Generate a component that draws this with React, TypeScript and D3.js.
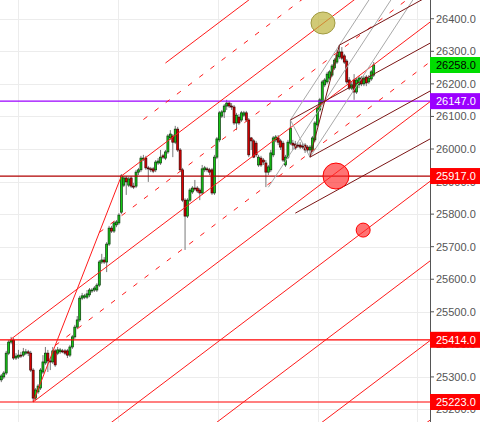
import React from "react";
import * as d3 from "d3";

// ---------- data ----------
const openP = [25291,25300,25312,25373,25407,25413,25358,25361,25367,25367,25373,25377,25373,25321,25235,25254,25266,25315,25343,25373,25349,25346,25380,25373,25377,25380,25380,25380,25367,25392,25423,25453,25475,25542,25545,25545,25552,25564,25567,25567,25582,25653,25659,25653,25708,25757,25748,25767,25773,25806,25889,25911,25889,25911,25886,25886,25929,25936,25969,25972,25942,25939,25939,25936,25957,25957,25979,25972,25991,26034,26040,26021,26061,25997,25936,25843,25794,25843,25868,25880,25880,25874,25865,25936,25939,25936,25936,25865,25975,26028,26101,26114,26132,26141,26132,26129,26080,26098,26089,26104,26111,26089,26034,26025,26018,25951,25972,25966,25957,25929,25936,25982,26028,26034,26025,26018,25951,25975,26018,26018,26015,26012,26012,26009,26012,26006,25997,25997,26028,26074,26120,26141,26197,26206,26218,26227,26249,26267,26283,26298,26286,26270,26212,26187,26212,26175,26197,26218,26200,26221,26206,26215,26227];
const highP = [25309,25318,25380,25413,25423,25420,25373,25383,25377,25389,25386,25383,25380,25327,25266,25278,25327,25367,25392,25383,25358,25392,25386,25392,25389,25386,25386,25386,25398,25429,25460,25487,25549,25558,25555,25567,25573,25573,25579,25588,25659,25678,25668,25714,25764,25764,25779,25782,25803,25923,25917,25917,25914,25917,25896,25936,25942,25979,25982,25979,25948,25945,25945,25966,25972,25997,25985,25997,26046,26058,26046,26071,26068,26003,25942,25849,25849,25880,25886,25905,25886,25880,25951,25948,25945,25942,25942,25982,26037,26117,26120,26138,26151,26147,26141,26135,26111,26107,26117,26117,26117,26095,26037,26031,26025,25982,25979,25972,25966,25951,25997,26040,26043,26043,26031,26025,25982,26028,26089,26028,26025,26021,26021,26018,26018,26012,26012,26040,26086,26132,26157,26212,26218,26237,26243,26261,26279,26304,26319,26313,26292,26276,26221,26206,26230,26218,26224,26224,26224,26227,26227,26243,26267];
const lowP = [25284,25294,25306,25367,25401,25352,25352,25355,25358,25361,25367,25364,25315,25223,25229,25248,25260,25309,25337,25315,25321,25340,25331,25367,25371,25373,25367,25358,25361,25386,25417,25447,25469,25536,25539,25539,25545,25558,25561,25561,25576,25647,25647,25622,25702,25742,25742,25760,25767,25800,25883,25859,25883,25880,25877,25880,25920,25929,25963,25936,25899,25929,25926,25929,25951,25951,25969,25966,25985,26028,25975,26015,25991,25929,25837,25690,25788,25837,25862,25871,25865,25843,25859,25929,25929,25920,25859,25859,25969,26021,26095,26095,26120,26126,26120,26074,26058,26074,26083,26098,26083,25975,25997,25972,25975,25945,25945,25951,25883,25920,25929,25975,26021,26012,25997,25960,25945,25969,26012,25997,25997,26003,26000,26000,25988,25988,25975,25991,26021,26068,26114,26135,26190,26200,26212,26221,26243,26261,26276,26273,26261,26200,26181,26181,26151,26169,26187,26193,26193,26193,26200,26209,26221];
const closeP = [25303,25312,25373,25407,25413,25358,25364,25367,25364,25377,25377,25373,25321,25235,25260,25272,25321,25346,25373,25349,25346,25380,25337,25383,25383,25377,25373,25367,25392,25423,25453,25475,25542,25549,25549,25555,25567,25567,25573,25582,25653,25659,25653,25708,25757,25748,25773,25776,25797,25917,25911,25899,25908,25886,25884,25929,25936,25972,25972,25942,25939,25936,25932,25960,25963,25975,25975,25991,26040,26046,26021,26061,25997,25936,25843,25794,25843,25874,25880,25877,25871,25865,25939,25942,25936,25929,25865,25975,26031,26111,26114,26132,26141,26132,26129,26080,26104,26080,26111,26111,26089,25982,26025,25975,25982,25975,25951,25960,25929,25945,25988,26034,26037,26021,26006,25966,25975,26021,26064,26012,26003,26009,26006,26006,25997,25997,26006,26034,26080,26126,26151,26206,26212,26230,26237,26255,26273,26289,26298,26279,26267,26206,26187,26197,26175,26212,26218,26200,26218,26203,26218,26237,26258];

const priceTicks = [25200,25300,25400,25500,25600,25700,25800,25900,26000,26100,26200,26300,26400];
const markerPrices = [26258, 26147, 25917, 25414, 25223];
const hLinePrices = [26147, 25917, 25414, 25223];
const gridIdx = [6.8, 47.6, 88.5, 129.3, 169.7];

// main pitchfork anchors (bar index, price)
const pf1Idx = [3.6, 13, 49];
const pf1Price = [25414, 25223, 25917];
const pf1Solid = [1, -1, 2, -2, -3, -4, -5];
const pf1Dashed = [0.5, -0.5, 1.5];

// second pitchfork anchors (shared by the maroon fork and the grey Schiff fork)
const pf2Idx = [118, 126, 138];
const pf2Price = [26089, 25975, 26319];
const pf2Solid = [1, -1, -2];

// markers
const ellipseIdx = [131.3];
const ellipsePrice = [26387];
const circleIdx = [136.6, 147.7];
const circlePrice = [25917, 25751];

// ---------- layout / style ----------
const W = 488, H = 422, PW = 430;
const RED = "#ff1a1a";
const MAROON = "#7b1515";
const GRAY = "#a8a8a8";

const markerStyle: Record<number, { bg: string; fg: string }> = {
  26258: { bg: "#00dd00", fg: "#000" },
  26147: { bg: "#9b00ff", fg: "#fff" },
  25917: { bg: "#ff0000", fg: "#fff" },
  25414: { bg: "#ff0000", fg: "#fff" },
  25223: { bg: "#ff0000", fg: "#fff" },
};
const hLineColor: Record<number, string> = {
  26147: "#9b00ff",
  25917: "#b00000",
  25414: "#ff0000",
  25223: "#ff0000",
};

export default function App() {
  const n = closeP.length;
  const x = d3.scaleLinear().domain([0, n - 1]).range([1.3, 373.7]);
  const y = d3.scaleLinear().domain([25223, 26258]).range([402, 65]);

  const ray = (sx: number, sy: number, dx: number, dy: number) => {
    const t = (PW + 20 - sx) / dx;
    return [sx, sy, sx + t * dx, sy + t * dy];
  };

  const fork = (idx: number[], pr: number[]) => {
    const P = idx.map((i, k) => [x(i), y(pr[k])]);
    const mid = [(P[1][0] + P[2][0]) / 2, (P[1][1] + P[2][1]) / 2];
    const dir = [mid[0] - P[0][0], mid[1] - P[0][1]];
    const half = [P[2][0] - mid[0], P[2][1] - mid[1]];
    const level = (k: number) => ray(mid[0] + k * half[0], mid[1] + k * half[1], dir[0], dir[1]);
    const median = ray(P[0][0], P[0][1], dir[0], dir[1]);
    return { P, mid, level, median };
  };

  const f1 = fork(pf1Idx, pf1Price);
  const f2 = fork(pf2Idx, pf2Price);

  // grey modified-Schiff fork on the same three points
  const A = f2.P[0], B = f2.P[1], C = f2.P[2];
  const sOrigin = [(A[0] + B[0]) / 2, (A[1] + B[1]) / 2];
  const sDir = [f2.mid[0] - sOrigin[0], f2.mid[1] - sOrigin[1]];
  const sLine = (p: number[], t0: number) =>
    ray(p[0] + t0 * sDir[0], p[1] + t0 * sDir[1], sDir[0], sDir[1]);
  const schiff = [sLine(sOrigin, -1.3), sLine(C, -2), sLine(B, 0)];

  const bw = 2.0;
  const font = "'Liberation Sans', Arial, sans-serif";

  return (
    <svg width={W} height={H} style={{ position: "absolute", left: 0, top: 0, background: "#fff" }}>
      <defs>
        <clipPath id="plot">
          <rect x={0} y={0} width={PW} height={H} />
        </clipPath>
      </defs>
      {/* grid */}
      <g stroke="#ececec" strokeWidth={1}>
        {priceTicks.map((p) => (
          <line key={p} x1={0} x2={PW} y1={Math.round(y(p)) + 0.5} y2={Math.round(y(p)) + 0.5} />
        ))}
        {gridIdx.map((g) => (
          <line key={g} x1={Math.round(x(g)) + 0.5} x2={Math.round(x(g)) + 0.5} y1={0} y2={H} />
        ))}
      </g>

      <g clipPath="url(#plot)">
        {/* candles */}
        {closeP.map((c, i) => {
          const o = openP[i];
          const up = c >= o;
          const cx = x(i);
          const top = y(Math.max(o, c));
          const bot = y(Math.min(o, c));
          return (
            <g key={i}>
              <line x1={cx} x2={cx} y1={y(highP[i])} y2={y(lowP[i])} stroke="#6a6a6a" strokeWidth={0.9} />
              <rect
                x={cx - bw / 2}
                y={top}
                width={bw}
                height={Math.max(bot - top, 1)}
                fill={up ? "#14c814" : "#e00000"}
                stroke={up ? "#083808" : "#3a0000"}
                strokeWidth={0.7}
              />
            </g>
          );
        })}

        {/* horizontal level lines */}
        {hLinePrices.map((p) => (
          <line key={p} x1={0} x2={PW} y1={y(p)} y2={y(p)} stroke={hLineColor[p]} strokeWidth={1.2} />
        ))}

        {/* main pitchfork */}
        <g stroke={RED} strokeWidth={1} fill="none">
          <line x1={f1.median[0]} y1={f1.median[1]} x2={f1.median[2]} y2={f1.median[3]} />
          <line x1={f1.P[1][0]} y1={f1.P[1][1]} x2={f1.P[2][0]} y2={f1.P[2][1]} />
          {pf1Solid.map((k) => {
            const l = f1.level(k);
            return <line key={k} x1={l[0]} y1={l[1]} x2={l[2]} y2={l[3]} />;
          })}
          {pf1Dashed.map((k) => {
            const l = f1.level(k);
            return <line key={"d" + k} x1={l[0]} y1={l[1]} x2={l[2]} y2={l[3]} strokeDasharray="5,9" />;
          })}
        </g>

        {/* grey Schiff fork */}
        <g stroke={GRAY} strokeWidth={1} fill="none">
          <line x1={A[0]} y1={A[1]} x2={B[0]} y2={B[1]} />
          {schiff.map((l, i) => (
            <line key={i} x1={l[0]} y1={l[1]} x2={l[2]} y2={l[3]} />
          ))}
        </g>

        {/* maroon fork */}
        <g stroke={MAROON} strokeWidth={1} fill="none">
          <line x1={f2.median[0]} y1={f2.median[1]} x2={f2.median[2]} y2={f2.median[3]} />
          <line x1={B[0]} y1={B[1]} x2={C[0]} y2={C[1]} />
          {pf2Solid.map((k) => {
            const l = f2.level(k);
            return <line key={k} x1={l[0]} y1={l[1]} x2={l[2]} y2={l[3]} />;
          })}
        </g>

        {/* markers */}
        {ellipseIdx.map((e, i) => (
          <ellipse key={i} cx={x(e)} cy={y(ellipsePrice[i])} rx={12} ry={11} fill="rgba(190,180,60,0.7)" stroke="#a09a40" strokeWidth={1} />
        ))}
        {circleIdx.map((c, i) => (
          <circle key={i} cx={x(c)} cy={y(circlePrice[i])} r={i === 0 ? 13 : 7} fill="rgba(255,40,40,0.65)" stroke="#ff0000" strokeWidth={1} />
        ))}
      </g>

      {/* price axis */}
      <rect x={PW} y={0} width={W - PW} height={H} fill="#fff" />
      <line x1={PW + 0.5} x2={PW + 0.5} y1={0} y2={H} stroke="#555" strokeWidth={1} />
      {priceTicks.map((p) => (
        <g key={p}>
          <line x1={PW} x2={PW + 4} y1={y(p)} y2={y(p)} stroke="#555" />
          <text x={PW + 6} y={y(p) + 4} fontSize={11} fontFamily={font} fill="#555">
            {p.toFixed(1)}
          </text>
        </g>
      ))}
      {markerPrices.map((p) => (
        <g key={p}>
          <rect x={PW} y={y(p) - 8} width={50} height={16} fill={markerStyle[p].bg} />
          <text x={PW + 6} y={y(p) + 4} fontSize={11} fontFamily={font} fill={markerStyle[p].fg}>
            {p.toFixed(1)}
          </text>
        </g>
      ))}
    </svg>
  );
}
